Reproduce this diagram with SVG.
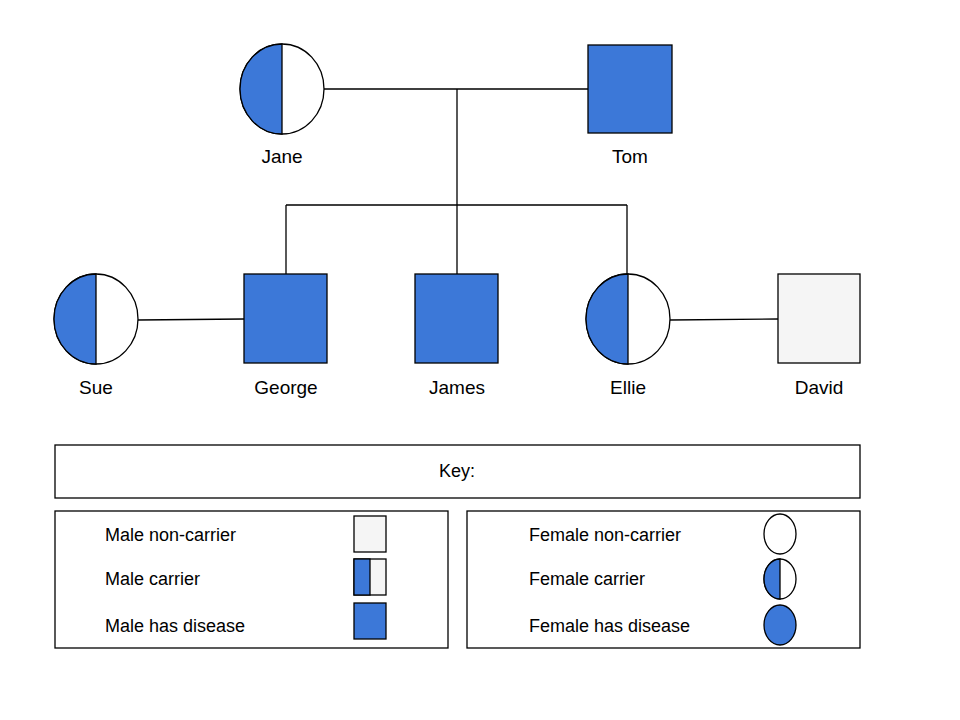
<svg xmlns="http://www.w3.org/2000/svg" width="960" height="720" viewBox="0 0 960 720">
<style>
text{font-family:"Liberation Sans",Arial,sans-serif;font-size:19px;fill:#000}
.c{text-anchor:middle}
.b{fill:#3c78d8;stroke:#000;stroke-width:1.3}
.w{fill:#fff;stroke:#000;stroke-width:1.3}
.g{fill:#f5f5f5;stroke:#000;stroke-width:1.3}
.l{stroke:#000;stroke-width:1.3;fill:none}
.k{font-size:18px}
</style>
<rect width="960" height="720" fill="#fff"/>
<g id="connectors" class="l">
<path d="M324 89H588M457 89V274M286 205H627M286 205V274M627 205V274M138 320L244 319M670 320L778 319"/>
</g>
<g id="jane"><ellipse class="w" cx="282" cy="89" rx="42" ry="45"/><path class="b" d="M282 44A42 45 0 0 0 282 134Z"/><text class="c" x="282" y="163">Jane</text></g>
<g id="tom"><rect class="b" x="588" y="45" width="84" height="88"/><text class="c" x="630" y="163">Tom</text></g>
<g id="sue"><ellipse class="w" cx="96" cy="319" rx="42" ry="45"/><path class="b" d="M96 274A42 45 0 0 0 96 364Z"/><text class="c" x="96" y="394">Sue</text></g>
<g id="george"><rect class="b" x="244" y="274" width="83" height="89"/><text class="c" x="286" y="394">George</text></g>
<g id="james"><rect class="b" x="415" y="274" width="83" height="89"/><text class="c" x="457" y="394">James</text></g>
<g id="ellie"><ellipse class="w" cx="628" cy="319" rx="42" ry="45"/><path class="b" d="M628 274A42 45 0 0 0 628 364Z"/><text class="c" x="628" y="394">Ellie</text></g>
<g id="david"><rect class="g" x="778" y="274" width="82" height="89"/><text class="c" x="819" y="394">David</text></g>
<g id="key">
<rect class="w" x="55" y="445" width="805" height="53"/><text class="c k" x="457" y="477">Key:</text>
<rect class="w" x="55" y="511" width="393" height="137"/>
<rect class="w" x="467" y="511" width="393" height="137"/>
<text class="k" x="105" y="541">Male non-carrier</text>
<text class="k" x="105" y="585">Male carrier</text>
<text class="k" x="105" y="632">Male has disease</text>
<rect class="g" x="354" y="516" width="32" height="36"/>
<rect class="g" x="354" y="559" width="32" height="36"/><rect class="b" x="354" y="559" width="16" height="36"/>
<rect class="b" x="354" y="603" width="32" height="36"/>
<text class="k" x="529" y="541">Female non-carrier</text>
<text class="k" x="529" y="585">Female carrier</text>
<text class="k" x="529" y="632">Female has disease</text>
<ellipse class="w" cx="780" cy="534" rx="16" ry="20"/>
<ellipse class="w" cx="780" cy="579" rx="16" ry="20"/><path class="b" d="M780 559A16 20 0 0 0 780 599Z"/>
<ellipse class="b" cx="780" cy="625" rx="16" ry="20"/>
</g>
</svg>
